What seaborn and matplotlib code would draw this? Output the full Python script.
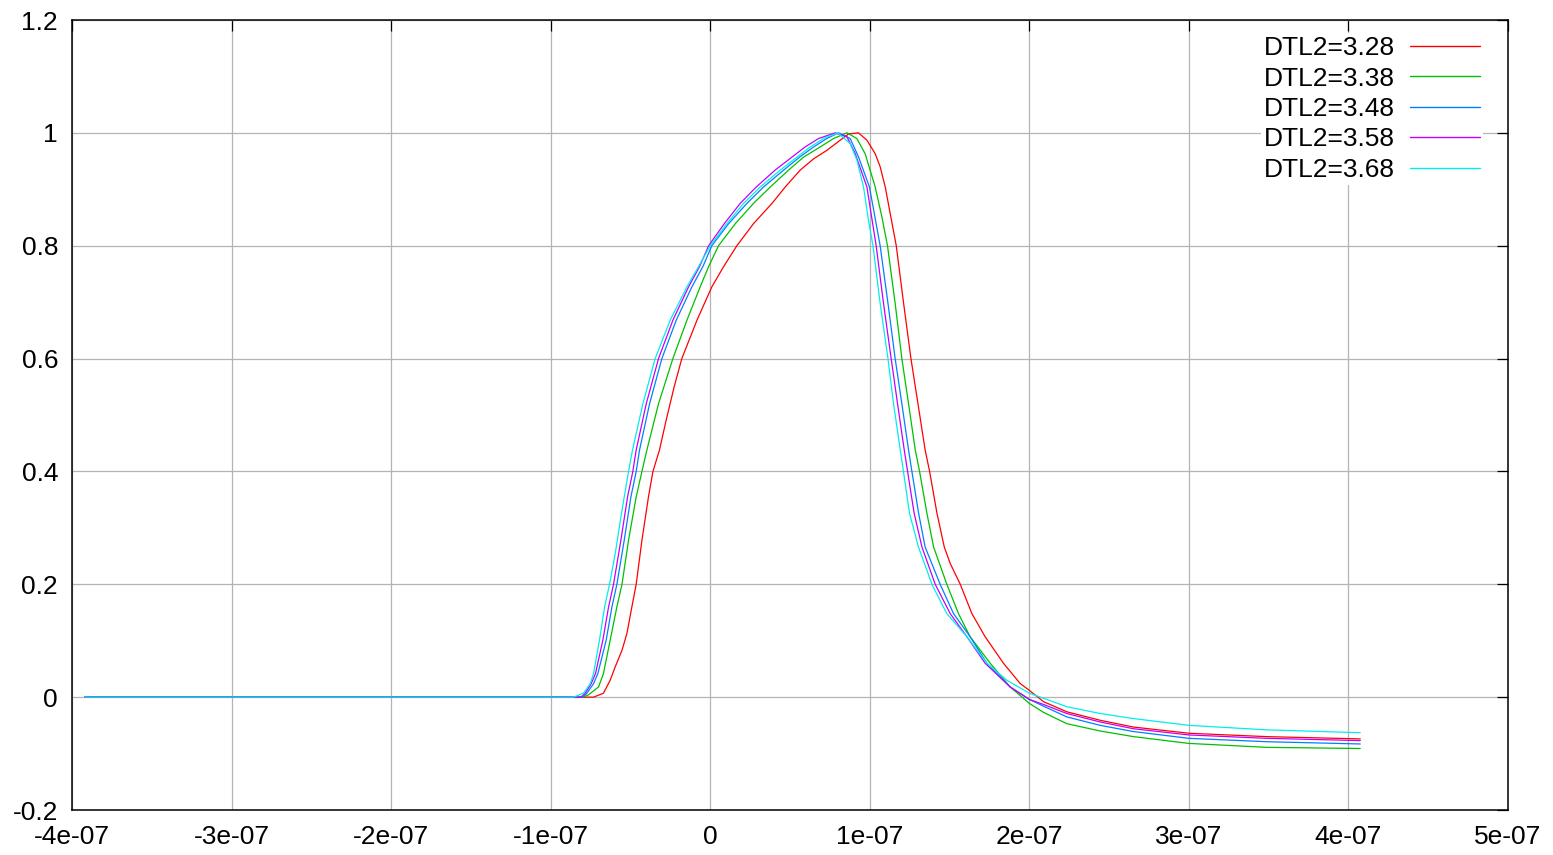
import numpy as np
import pandas as pd
import matplotlib
matplotlib.use("Agg")
import matplotlib.pyplot as plt
import seaborn as sns

# ---- data (time in units of 1e-7 s, normalised signal) ----
labels = ["DTL2=3.28", "DTL2=3.38", "DTL2=3.48", "DTL2=3.58", "DTL2=3.68"]
colors = ["#ff0000", "#00c000", "#0080ff", "#c000ff", "#00eeee"]

t_328 = [-3.92, -0.90, -0.80, -0.731, -0.669, -0.627, -0.595, -0.553, -0.522, -0.491, -0.464,
         -0.428, -0.387, -0.359, -0.318, -0.276, -0.226, -0.178, -0.083, 0.010, 0.084, 0.167,
         0.271, 0.387, 0.470, 0.564, 0.648, 0.731, 0.815, 0.867, 0.929, 0.982, 1.034, 1.065,
         1.097, 1.128, 1.166, 1.212, 1.258, 1.302, 1.347, 1.375, 1.421, 1.467, 1.504, 1.567,
         1.640, 1.723, 1.838, 1.943, 2.0, 2.089, 2.235, 2.444, 2.653, 3.0, 3.489, 4.074]
v_328 = [0.0, 0.0, 0.0, 0.0, 0.007, 0.030, 0.054, 0.083, 0.113, 0.160, 0.200,
         0.278, 0.355, 0.400, 0.438, 0.491, 0.550, 0.600, 0.668, 0.727, 0.763, 0.800,
         0.839, 0.875, 0.904, 0.934, 0.954, 0.969, 0.987, 0.998, 1.000, 0.987, 0.963, 0.940,
         0.904, 0.857, 0.800, 0.698, 0.600, 0.520, 0.438, 0.400, 0.326, 0.266, 0.237, 0.200,
         0.148, 0.107, 0.060, 0.024, 0.012, -0.008, -0.026, -0.041, -0.053, -0.064, -0.070, -0.074]

t_338 = [-3.92, -0.90, -0.80, -0.763, -0.70, -0.669, -0.627, -0.585, -0.553, -0.512, -0.464,
         -0.428, -0.397, -0.324, -0.234, -0.146, -0.063, -0.010, 0.052, 0.157, 0.271, 0.376,
         0.491, 0.585, 0.689, 0.773, 0.857, 0.919, 0.971, 1.034, 1.076, 1.111, 1.159, 1.201,
         1.243, 1.285, 1.312, 1.358, 1.400, 1.483, 1.556, 1.629, 1.755, 1.880, 2.0, 2.089,
         2.235, 2.444, 2.653, 3.0, 3.489, 4.074]
v_338 = [0.0, 0.0, 0.0, 0.004, 0.018, 0.042, 0.101, 0.160, 0.200, 0.278, 0.355,
         0.400, 0.438, 0.520, 0.600, 0.668, 0.727, 0.763, 0.800, 0.839, 0.875, 0.904,
         0.934, 0.957, 0.975, 0.990, 1.000, 0.990, 0.963, 0.904, 0.851, 0.800, 0.698, 0.600,
         0.520, 0.438, 0.400, 0.326, 0.266, 0.200, 0.148, 0.107, 0.060, 0.018, -0.011, -0.027,
         -0.047, -0.060, -0.070, -0.082, -0.089, -0.091]

t_348 = [-3.92, -0.90, -0.80, -0.773, -0.731, -0.704, -0.652, -0.616, -0.585, -0.539, -0.497,
         -0.464, -0.443, -0.380, -0.303, -0.213, -0.115, -0.046, 0.010, 0.115, 0.230, 0.334,
         0.460, 0.560, 0.648, 0.731, 0.804, 0.877, 0.930, 0.998, 1.065, 1.114, 1.159, 1.201,
         1.243, 1.264, 1.306, 1.347, 1.441, 1.525, 1.629, 1.734, 1.880, 2.0, 2.089, 2.235,
         2.444, 2.653, 3.0, 3.489, 4.074]
v_348 = [0.0, 0.0, 0.0, 0.007, 0.024, 0.042, 0.101, 0.160, 0.200, 0.278, 0.355,
         0.400, 0.438, 0.520, 0.600, 0.668, 0.727, 0.763, 0.800, 0.839, 0.875, 0.904,
         0.934, 0.957, 0.975, 0.990, 1.000, 0.990, 0.957, 0.904, 0.800, 0.698, 0.600, 0.520,
         0.438, 0.400, 0.326, 0.266, 0.200, 0.148, 0.107, 0.060, 0.018, -0.004, -0.016, -0.035,
         -0.050, -0.061, -0.073, -0.079, -0.083]

t_358 = [-3.92, -0.90, -0.81, -0.783, -0.746, -0.719, -0.673, -0.637, -0.606, -0.560, -0.518,
         -0.485, -0.464, -0.401, -0.324, -0.234, -0.136, -0.067, -0.010, 0.088, 0.188, 0.288,
         0.407, 0.512, 0.595, 0.679, 0.783, 0.857, 0.909, 0.982, 1.040, 1.086, 1.134, 1.174,
         1.216, 1.237, 1.278, 1.327, 1.410, 1.504, 1.609, 1.723, 1.880, 2.0, 2.089, 2.235,
         2.444, 2.653, 3.0, 3.489, 4.074]
v_358 = [0.0, 0.0, 0.0, 0.007, 0.024, 0.042, 0.101, 0.160, 0.200, 0.278, 0.355,
         0.400, 0.438, 0.520, 0.600, 0.668, 0.727, 0.763, 0.800, 0.839, 0.875, 0.904,
         0.934, 0.957, 0.975, 0.990, 1.000, 0.993, 0.963, 0.904, 0.800, 0.698, 0.600, 0.520,
         0.438, 0.400, 0.326, 0.266, 0.200, 0.148, 0.107, 0.060, 0.018, -0.004, -0.013, -0.029,
         -0.044, -0.056, -0.067, -0.073, -0.077]

t_368 = [-3.92, -0.90, -0.857, -0.794, -0.752, -0.731, -0.694, -0.662, -0.631, -0.595, -0.553,
         -0.512, -0.487, -0.422, -0.345, -0.251, -0.146, -0.073, 0.0, 0.104, 0.209, 0.313,
         0.439, 0.543, 0.627, 0.710, 0.800, 0.877, 0.919, 0.961, 0.992, 1.020, 1.065, 1.114,
         1.149, 1.191, 1.211, 1.249, 1.305, 1.358, 1.389, 1.483, 1.609, 1.734, 1.859, 2.0,
         2.089, 2.235, 2.444, 2.653, 3.0, 3.489, 4.074]
v_368 = [0.0, 0.0, 0.0, 0.007, 0.024, 0.042, 0.101, 0.160, 0.200, 0.255, 0.331,
         0.400, 0.438, 0.520, 0.600, 0.668, 0.727, 0.763, 0.800, 0.839, 0.875, 0.904,
         0.934, 0.957, 0.975, 0.990, 1.000, 0.981, 0.952, 0.904, 0.845, 0.800, 0.698, 0.600,
         0.520, 0.438, 0.400, 0.326, 0.266, 0.225, 0.200, 0.148, 0.107, 0.060, 0.030, 0.007,
         -0.002, -0.017, -0.029, -0.038, -0.050, -0.058, -0.063]

series_t = [t_328, t_338, t_348, t_358, t_368]
series_v = [v_328, v_338, v_348, v_358, v_368]

xtick_vals = [-4e-7, -3e-7, -2e-7, -1e-7, 0, 1e-7, 2e-7, 3e-7, 4e-7, 5e-7]
xtick_labels = ["-4e-07", "-3e-07", "-2e-07", "-1e-07", "0", "1e-07", "2e-07", "3e-07", "4e-07", "5e-07"]
ytick_vals = [-0.2, 0, 0.2, 0.4, 0.6, 0.8, 1.0, 1.2]
ytick_labels = ["-0.2", "0", "0.2", "0.4", "0.6", "0.8", "1", "1.2"]

# ---- build long table ----
rows = []
for lab, ts, vs in zip(labels, series_t, series_v):
    for i, (t, v) in enumerate(zip(ts, vs)):
        rows.append({"t": t * 1e-7, "v": v, "series": lab, "order": i})
df = pd.DataFrame(rows)

sns.set_style("white")
plt.rcParams["font.family"] = ["Liberation Sans", "DejaVu Sans"]
plt.rcParams["text.color"] = "black"

fig = plt.figure(figsize=(15.53, 8.55), dpi=100)
ax = fig.add_axes([72 / 1553, 45 / 855, (1508 - 72) / 1553, (810 - 20) / 855])

sns.lineplot(data=df, x="t", y="v", hue="series", hue_order=labels,
             palette=dict(zip(labels, colors)), sort=False, estimator=None,
             units="series", linewidth=0.9, ax=ax, legend=True, zorder=3)

ax.set_xlim(-4e-7, 5e-7)
ax.set_ylim(-0.2, 1.2)
ax.set_xticks(xtick_vals)
ax.set_xticklabels(xtick_labels)
ax.set_yticks(ytick_vals)
ax.set_yticklabels(ytick_labels)
ax.set_xlabel("")
ax.set_ylabel("")

ax.grid(True, color="#b4b4b4", linewidth=0.9, zorder=0)
ax.set_axisbelow(True)
for s in ax.spines.values():
    s.set_color("black")
    s.set_linewidth(1.1)
    s.set_visible(True)
ax.tick_params(axis="both", which="major", direction="in", length=8, width=0.9,
               top=True, right=True, labelsize=19, pad=10, colors="black")
ax.tick_params(axis="x", pad=11)

leg = ax.legend(loc="upper right", bbox_to_anchor=(0.9823, 0.983), frameon=True,
                fontsize=19, markerfirst=False, handlelength=2.65, handletextpad=0.57,
                labelspacing=0.245, borderpad=0.1, borderaxespad=0.0, fancybox=False)
leg.get_frame().set_facecolor("white")
leg.get_frame().set_edgecolor("none")
leg.get_frame().set_alpha(1.0)
leg.set_zorder(5)
for txt in leg.get_texts():
    txt.set_color("black")
for line in leg.get_lines():
    line.set_linewidth(1.0)

fig.savefig("out.png", dpi=100, facecolor="white")
